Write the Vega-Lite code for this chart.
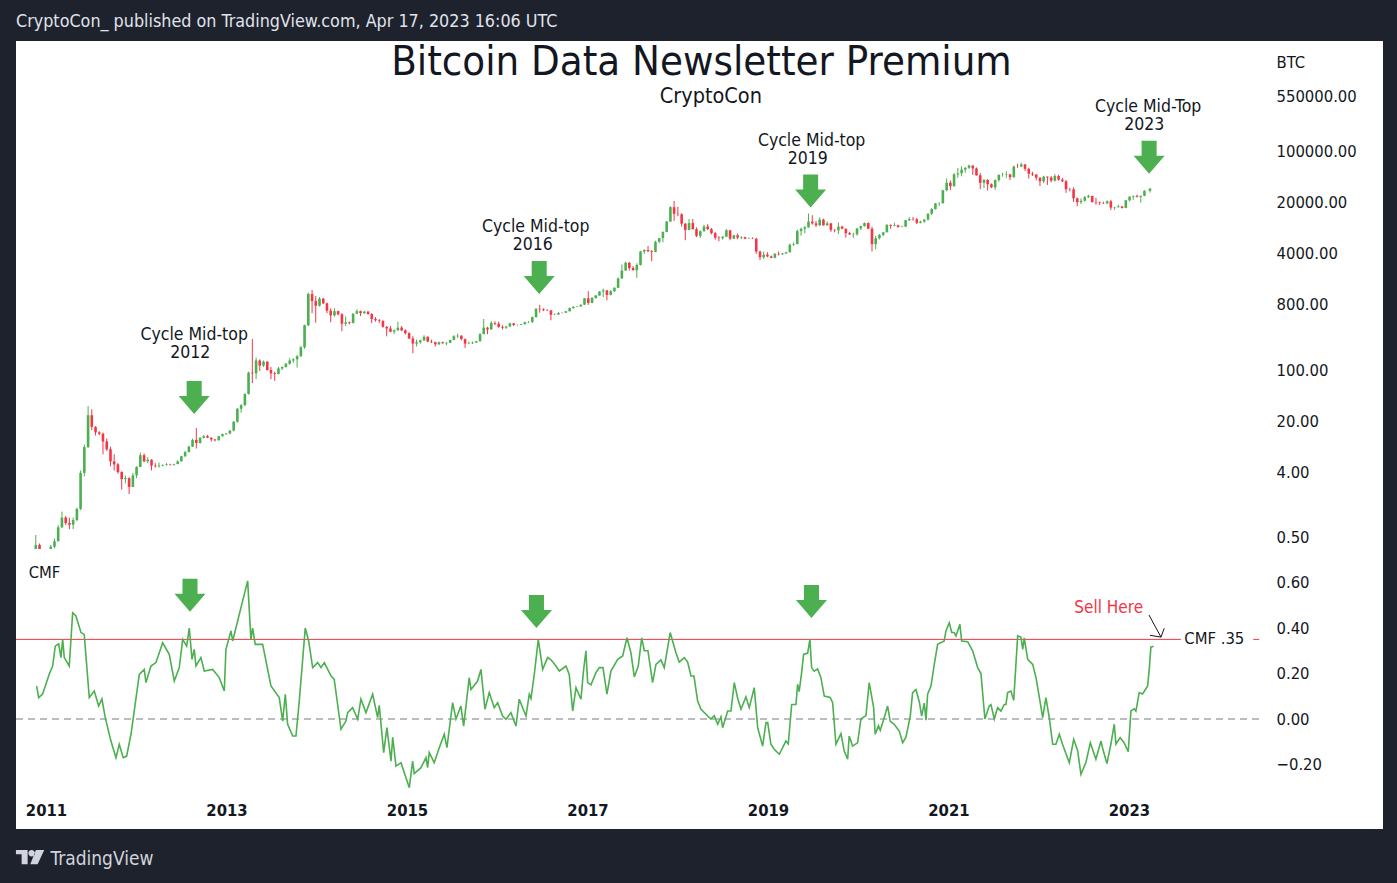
{
  "$schema": "https://vega.github.io/schema/vega-lite/v6.json",
  "background": "#1e222d",
  "padding": {"left": 15, "right": 15, "top": 13, "bottom": 16},
  "title": {
    "text": "CryptoCon_ published on TradingView.com, Apr 17, 2023 16:06 UTC",
    "anchor": "start",
    "frame": "group",
    "offset": 10,
    "color": "#e0e3eb",
    "fontSize": 17.8,
    "fontWeight": "normal",
    "font": "DejaVu Sans Condensed, DejaVu Sans"
  },
  "spacing": 0,
  "datasets": {
    "btc": [
      {"t":2010.833,"o":0.2,"h":0.55,"l":0.19,"c":0.4},
      {"t":2010.875,"o":0.4,"h":0.42,"l":0.19,"c":0.25},
      {"t":2010.917,"o":0.25,"h":0.3,"l":0.18,"c":0.22},
      {"t":2010.958,"o":0.22,"h":0.3,"l":0.2,"c":0.29},
      {"t":2011.000,"o":0.29,"h":0.4,"l":0.28,"c":0.38},
      {"t":2011.042,"o":0.38,"h":0.49,"l":0.36,"c":0.45},
      {"t":2011.083,"o":0.45,"h":0.75,"l":0.45,"c":0.7},
      {"t":2011.125,"o":0.7,"h":1.15,"l":0.68,"c":0.95},
      {"t":2011.167,"o":0.95,"h":1.0,"l":0.75,"c":0.8},
      {"t":2011.208,"o":0.8,"h":0.95,"l":0.66,"c":0.76},
      {"t":2011.250,"o":0.76,"h":0.95,"l":0.66,"c":0.88},
      {"t":2011.292,"o":0.88,"h":1.3,"l":0.85,"c":1.25},
      {"t":2011.333,"o":1.25,"h":4.2,"l":1.2,"c":3.9},
      {"t":2011.375,"o":3.9,"h":9.5,"l":3.5,"c":8.8},
      {"t":2011.417,"o":8.8,"h":32,"l":8.5,"c":24},
      {"t":2011.458,"o":24,"h":29,"l":15,"c":16.6},
      {"t":2011.500,"o":16.6,"h":17,"l":12.7,"c":14},
      {"t":2011.542,"o":14,"h":14.5,"l":12.8,"c":13.4},
      {"t":2011.583,"o":13.4,"h":13.9,"l":7,"c":10.5},
      {"t":2011.625,"o":10.5,"h":11.5,"l":7.8,"c":8.2},
      {"t":2011.667,"o":8.2,"h":8.9,"l":4.8,"c":5.6},
      {"t":2011.708,"o":5.6,"h":7,"l":4.2,"c":5.1},
      {"t":2011.750,"o":5.1,"h":5.3,"l":3.8,"c":4},
      {"t":2011.792,"o":4,"h":4.1,"l":2.3,"c":3.2},
      {"t":2011.833,"o":3.2,"h":3.6,"l":2.8,"c":3.3},
      {"t":2011.875,"o":3.3,"h":3.4,"l":2.0,"c":2.5},
      {"t":2011.917,"o":2.5,"h":3.9,"l":2.5,"c":3.6},
      {"t":2011.958,"o":3.6,"h":4.8,"l":3.3,"c":4.7},
      {"t":2012.000,"o":4.7,"h":7.4,"l":4.7,"c":6.8},
      {"t":2012.042,"o":6.8,"h":7.2,"l":5.5,"c":5.6},
      {"t":2012.083,"o":5.6,"h":6.4,"l":5.3,"c":5.9},
      {"t":2012.125,"o":5.9,"h":6,"l":4.2,"c":4.9},
      {"t":2012.167,"o":4.9,"h":5.3,"l":4.6,"c":4.8},
      {"t":2012.208,"o":4.8,"h":5.4,"l":4.6,"c":4.9},
      {"t":2012.250,"o":4.9,"h":5.1,"l":4.8,"c":5},
      {"t":2012.292,"o":5,"h":5.3,"l":4.9,"c":5.1},
      {"t":2012.333,"o":5.1,"h":5.2,"l":4.9,"c":5.05},
      {"t":2012.375,"o":5.05,"h":5.2,"l":4.9,"c":5.15},
      {"t":2012.417,"o":5.15,"h":5.8,"l":5.1,"c":5.6},
      {"t":2012.458,"o":5.6,"h":6.7,"l":5.6,"c":6.6},
      {"t":2012.500,"o":6.6,"h":7.8,"l":6.4,"c":7.5},
      {"t":2012.542,"o":7.5,"h":9.2,"l":7.5,"c":8.9},
      {"t":2012.583,"o":8.9,"h":11.5,"l":8.8,"c":11},
      {"t":2012.625,"o":11,"h":16,"l":8.4,"c":10},
      {"t":2012.667,"o":10,"h":12,"l":9.8,"c":11.8},
      {"t":2012.708,"o":11.8,"h":12.9,"l":11.5,"c":12.4},
      {"t":2012.750,"o":12.4,"h":12.9,"l":11.7,"c":11.8},
      {"t":2012.792,"o":11.8,"h":12,"l":10.5,"c":11.2},
      {"t":2012.833,"o":11.2,"h":11.3,"l":10.5,"c":10.9},
      {"t":2012.875,"o":10.9,"h":12.5,"l":10.8,"c":12.4},
      {"t":2012.917,"o":12.4,"h":13.5,"l":12.2,"c":13.2},
      {"t":2012.958,"o":13.2,"h":13.6,"l":12.9,"c":13.5},
      {"t":2013.000,"o":13.5,"h":15,"l":13.2,"c":14.8},
      {"t":2013.042,"o":14.8,"h":20,"l":14.5,"c":19.5},
      {"t":2013.083,"o":19.5,"h":30,"l":19,"c":29.5},
      {"t":2013.125,"o":29.5,"h":34,"l":26,"c":33},
      {"t":2013.167,"o":33,"h":48,"l":32,"c":47},
      {"t":2013.208,"o":47,"h":95,"l":46,"c":92},
      {"t":2013.250,"o":92,"h":266,"l":66,"c":90},
      {"t":2013.292,"o":90,"h":148,"l":75,"c":135},
      {"t":2013.333,"o":135,"h":140,"l":97,"c":115},
      {"t":2013.375,"o":115,"h":135,"l":110,"c":130},
      {"t":2013.417,"o":130,"h":132,"l":98,"c":100},
      {"t":2013.458,"o":100,"h":110,"l":75,"c":90},
      {"t":2013.500,"o":90,"h":95,"l":71,"c":88},
      {"t":2013.542,"o":88,"h":110,"l":87,"c":105},
      {"t":2013.583,"o":105,"h":112,"l":100,"c":110},
      {"t":2013.625,"o":110,"h":125,"l":108,"c":122},
      {"t":2013.667,"o":122,"h":145,"l":118,"c":135},
      {"t":2013.708,"o":135,"h":145,"l":125,"c":140},
      {"t":2013.750,"o":140,"h":160,"l":108,"c":155},
      {"t":2013.792,"o":155,"h":215,"l":150,"c":205},
      {"t":2013.833,"o":205,"h":420,"l":195,"c":410},
      {"t":2013.875,"o":410,"h":1150,"l":400,"c":1100},
      {"t":2013.917,"o":1100,"h":1250,"l":600,"c":880},
      {"t":2013.958,"o":880,"h":1030,"l":445,"c":760},
      {"t":2014.000,"o":760,"h":1000,"l":740,"c":950},
      {"t":2014.042,"o":950,"h":970,"l":800,"c":820},
      {"t":2014.083,"o":820,"h":840,"l":600,"c":650},
      {"t":2014.125,"o":650,"h":700,"l":450,"c":560},
      {"t":2014.167,"o":560,"h":700,"l":540,"c":640},
      {"t":2014.208,"o":640,"h":650,"l":560,"c":580},
      {"t":2014.250,"o":580,"h":600,"l":340,"c":430},
      {"t":2014.292,"o":430,"h":540,"l":400,"c":450},
      {"t":2014.333,"o":450,"h":460,"l":420,"c":440},
      {"t":2014.375,"o":440,"h":600,"l":435,"c":590},
      {"t":2014.417,"o":590,"h":680,"l":585,"c":640},
      {"t":2014.458,"o":640,"h":650,"l":550,"c":600},
      {"t":2014.500,"o":600,"h":650,"l":590,"c":630},
      {"t":2014.542,"o":630,"h":640,"l":570,"c":585},
      {"t":2014.583,"o":585,"h":600,"l":440,"c":500},
      {"t":2014.625,"o":500,"h":530,"l":460,"c":480},
      {"t":2014.667,"o":480,"h":500,"l":440,"c":470},
      {"t":2014.708,"o":470,"h":480,"l":380,"c":390},
      {"t":2014.750,"o":390,"h":400,"l":290,"c":370},
      {"t":2014.792,"o":370,"h":400,"l":330,"c":335},
      {"t":2014.833,"o":335,"h":360,"l":310,"c":350},
      {"t":2014.875,"o":350,"h":460,"l":345,"c":380},
      {"t":2014.917,"o":380,"h":400,"l":340,"c":350},
      {"t":2014.958,"o":350,"h":360,"l":305,"c":320},
      {"t":2015.000,"o":320,"h":330,"l":265,"c":270},
      {"t":2015.042,"o":270,"h":290,"l":170,"c":230},
      {"t":2015.083,"o":230,"h":260,"l":210,"c":240},
      {"t":2015.125,"o":240,"h":260,"l":230,"c":255},
      {"t":2015.167,"o":255,"h":300,"l":250,"c":285},
      {"t":2015.208,"o":285,"h":290,"l":240,"c":245},
      {"t":2015.250,"o":245,"h":260,"l":235,"c":240},
      {"t":2015.292,"o":240,"h":245,"l":210,"c":225},
      {"t":2015.333,"o":225,"h":245,"l":220,"c":240},
      {"t":2015.375,"o":240,"h":245,"l":230,"c":232},
      {"t":2015.417,"o":232,"h":240,"l":220,"c":236},
      {"t":2015.458,"o":236,"h":260,"l":233,"c":258},
      {"t":2015.500,"o":258,"h":300,"l":255,"c":290},
      {"t":2015.542,"o":290,"h":315,"l":275,"c":295},
      {"t":2015.583,"o":295,"h":300,"l":255,"c":265},
      {"t":2015.625,"o":265,"h":270,"l":200,"c":230},
      {"t":2015.667,"o":230,"h":245,"l":225,"c":232},
      {"t":2015.708,"o":232,"h":245,"l":228,"c":237},
      {"t":2015.750,"o":237,"h":250,"l":236,"c":248},
      {"t":2015.792,"o":248,"h":320,"l":245,"c":310},
      {"t":2015.833,"o":310,"h":500,"l":310,"c":380},
      {"t":2015.875,"o":380,"h":390,"l":310,"c":360},
      {"t":2015.917,"o":360,"h":470,"l":355,"c":440},
      {"t":2015.958,"o":440,"h":465,"l":410,"c":430},
      {"t":2016.000,"o":430,"h":460,"l":380,"c":390},
      {"t":2016.042,"o":390,"h":410,"l":360,"c":380},
      {"t":2016.083,"o":380,"h":400,"l":365,"c":395},
      {"t":2016.125,"o":395,"h":445,"l":390,"c":435},
      {"t":2016.167,"o":435,"h":440,"l":400,"c":415},
      {"t":2016.208,"o":415,"h":420,"l":405,"c":416},
      {"t":2016.250,"o":416,"h":430,"l":412,"c":425},
      {"t":2016.292,"o":425,"h":460,"l":420,"c":450},
      {"t":2016.333,"o":450,"h":465,"l":440,"c":455},
      {"t":2016.375,"o":455,"h":540,"l":440,"c":530},
      {"t":2016.417,"o":530,"h":700,"l":525,"c":690},
      {"t":2016.458,"o":690,"h":780,"l":610,"c":680},
      {"t":2016.500,"o":680,"h":700,"l":640,"c":660},
      {"t":2016.542,"o":660,"h":680,"l":640,"c":655},
      {"t":2016.583,"o":655,"h":660,"l":480,"c":570},
      {"t":2016.625,"o":570,"h":595,"l":565,"c":575},
      {"t":2016.667,"o":575,"h":620,"l":570,"c":605},
      {"t":2016.708,"o":605,"h":615,"l":595,"c":608},
      {"t":2016.750,"o":608,"h":640,"l":605,"c":638},
      {"t":2016.792,"o":638,"h":720,"l":635,"c":705},
      {"t":2016.833,"o":705,"h":750,"l":690,"c":735},
      {"t":2016.875,"o":735,"h":755,"l":725,"c":742},
      {"t":2016.917,"o":742,"h":790,"l":740,"c":785},
      {"t":2016.958,"o":785,"h":965,"l":780,"c":960},
      {"t":2017.000,"o":960,"h":1200,"l":780,"c":830},
      {"t":2017.042,"o":830,"h":1000,"l":820,"c":970},
      {"t":2017.083,"o":970,"h":1060,"l":950,"c":1050},
      {"t":2017.125,"o":1050,"h":1200,"l":1040,"c":1190},
      {"t":2017.167,"o":1190,"h":1300,"l":1000,"c":1230},
      {"t":2017.208,"o":1230,"h":1250,"l":900,"c":1070},
      {"t":2017.250,"o":1070,"h":1240,"l":1050,"c":1200},
      {"t":2017.292,"o":1200,"h":1350,"l":1170,"c":1340},
      {"t":2017.333,"o":1340,"h":1850,"l":1320,"c":1800},
      {"t":2017.375,"o":1800,"h":2800,"l":1780,"c":2300},
      {"t":2017.417,"o":2300,"h":3050,"l":2300,"c":2950},
      {"t":2017.458,"o":2950,"h":3000,"l":2300,"c":2500},
      {"t":2017.500,"o":2500,"h":2650,"l":2300,"c":2330},
      {"t":2017.542,"o":2330,"h":2900,"l":1830,"c":2750},
      {"t":2017.583,"o":2750,"h":4300,"l":2700,"c":4200},
      {"t":2017.625,"o":4200,"h":4500,"l":3900,"c":4400},
      {"t":2017.667,"o":4400,"h":5000,"l":4100,"c":4250},
      {"t":2017.708,"o":4250,"h":4400,"l":3100,"c":4150},
      {"t":2017.750,"o":4150,"h":5900,"l":4100,"c":5700},
      {"t":2017.792,"o":5700,"h":6400,"l":5500,"c":6400},
      {"t":2017.833,"o":6400,"h":7900,"l":5600,"c":7800},
      {"t":2017.875,"o":7800,"h":11000,"l":7700,"c":10800},
      {"t":2017.917,"o":10800,"h":17500,"l":10700,"c":17000},
      {"t":2017.958,"o":17000,"h":20700,"l":11000,"c":13800},
      {"t":2018.000,"o":13800,"h":17200,"l":12800,"c":13600},
      {"t":2018.042,"o":13600,"h":14000,"l":9200,"c":10100},
      {"t":2018.083,"o":10100,"h":10300,"l":6000,"c":8300},
      {"t":2018.125,"o":8300,"h":11700,"l":8200,"c":10300},
      {"t":2018.167,"o":10300,"h":11700,"l":8400,"c":8500},
      {"t":2018.208,"o":8500,"h":9000,"l":6600,"c":6900},
      {"t":2018.250,"o":6900,"h":8200,"l":6450,"c":7950},
      {"t":2018.292,"o":7950,"h":9800,"l":7900,"c":9250},
      {"t":2018.333,"o":9250,"h":9950,"l":8300,"c":8500},
      {"t":2018.375,"o":8500,"h":8800,"l":7200,"c":7500},
      {"t":2018.417,"o":7500,"h":7750,"l":6100,"c":6500},
      {"t":2018.458,"o":6500,"h":6800,"l":5800,"c":6400},
      {"t":2018.500,"o":6400,"h":6850,"l":6100,"c":6700},
      {"t":2018.542,"o":6700,"h":8500,"l":6600,"c":8200},
      {"t":2018.583,"o":8200,"h":8300,"l":6000,"c":6300},
      {"t":2018.625,"o":6300,"h":7100,"l":6200,"c":7000},
      {"t":2018.667,"o":7000,"h":7400,"l":6200,"c":6500},
      {"t":2018.708,"o":6500,"h":6800,"l":6200,"c":6600},
      {"t":2018.750,"o":6600,"h":6700,"l":6200,"c":6300},
      {"t":2018.792,"o":6300,"h":6500,"l":6250,"c":6350},
      {"t":2018.833,"o":6350,"h":6550,"l":6250,"c":6300},
      {"t":2018.875,"o":6300,"h":6400,"l":3900,"c":4200},
      {"t":2018.917,"o":4200,"h":4300,"l":3200,"c":3500},
      {"t":2018.958,"o":3500,"h":4200,"l":3300,"c":3800},
      {"t":2019.000,"o":3800,"h":4100,"l":3500,"c":3600},
      {"t":2019.042,"o":3600,"h":3700,"l":3400,"c":3450},
      {"t":2019.083,"o":3450,"h":4000,"l":3380,"c":3900},
      {"t":2019.125,"o":3900,"h":4200,"l":3700,"c":3850},
      {"t":2019.167,"o":3850,"h":4000,"l":3750,"c":3950},
      {"t":2019.208,"o":3950,"h":4150,"l":3900,"c":4100},
      {"t":2019.250,"o":4100,"h":5400,"l":4100,"c":5200},
      {"t":2019.292,"o":5200,"h":5600,"l":5000,"c":5300},
      {"t":2019.333,"o":5300,"h":8400,"l":5300,"c":8000},
      {"t":2019.375,"o":8000,"h":8900,"l":6900,"c":8600},
      {"t":2019.417,"o":8600,"h":9400,"l":7500,"c":9000},
      {"t":2019.458,"o":9000,"h":13900,"l":8900,"c":10800},
      {"t":2019.500,"o":10800,"h":13200,"l":9800,"c":10200},
      {"t":2019.542,"o":10200,"h":11000,"l":9100,"c":9600},
      {"t":2019.583,"o":9600,"h":12300,"l":9400,"c":11500},
      {"t":2019.625,"o":11500,"h":11800,"l":9500,"c":9600},
      {"t":2019.667,"o":9600,"h":10900,"l":9500,"c":10200},
      {"t":2019.708,"o":10200,"h":10400,"l":7800,"c":8300},
      {"t":2019.750,"o":8300,"h":8500,"l":7700,"c":8200},
      {"t":2019.792,"o":8200,"h":10500,"l":7300,"c":9200},
      {"t":2019.833,"o":9200,"h":9500,"l":8500,"c":8600},
      {"t":2019.875,"o":8600,"h":8700,"l":6500,"c":7500},
      {"t":2019.917,"o":7500,"h":7800,"l":7100,"c":7200},
      {"t":2019.958,"o":7200,"h":7600,"l":6450,"c":7250},
      {"t":2020.000,"o":7250,"h":8800,"l":6900,"c":8700},
      {"t":2020.042,"o":8700,"h":9500,"l":8300,"c":9350},
      {"t":2020.083,"o":9350,"h":10500,"l":9200,"c":10300},
      {"t":2020.125,"o":10300,"h":10500,"l":8500,"c":8600},
      {"t":2020.167,"o":8600,"h":9200,"l":4200,"c":5300},
      {"t":2020.208,"o":5300,"h":6900,"l":4500,"c":6400},
      {"t":2020.250,"o":6400,"h":7300,"l":6150,"c":7100},
      {"t":2020.292,"o":7100,"h":7800,"l":6800,"c":7700},
      {"t":2020.333,"o":7700,"h":10000,"l":7700,"c":9700},
      {"t":2020.375,"o":9700,"h":9900,"l":8600,"c":9450},
      {"t":2020.417,"o":9450,"h":10400,"l":9250,"c":9600},
      {"t":2020.458,"o":9600,"h":9800,"l":8900,"c":9100},
      {"t":2020.500,"o":9100,"h":9450,"l":9050,"c":9200},
      {"t":2020.542,"o":9200,"h":11400,"l":9100,"c":11300},
      {"t":2020.583,"o":11300,"h":12400,"l":11000,"c":11700},
      {"t":2020.625,"o":11700,"h":12500,"l":11150,"c":11600},
      {"t":2020.667,"o":11600,"h":12100,"l":10000,"c":10400},
      {"t":2020.708,"o":10400,"h":11100,"l":10200,"c":10800},
      {"t":2020.750,"o":10800,"h":11700,"l":10400,"c":11500},
      {"t":2020.792,"o":11500,"h":14000,"l":11200,"c":13800},
      {"t":2020.833,"o":13800,"h":16500,"l":13200,"c":16000},
      {"t":2020.875,"o":16000,"h":19400,"l":15800,"c":19200},
      {"t":2020.917,"o":19200,"h":19900,"l":17600,"c":19300},
      {"t":2020.958,"o":19300,"h":29300,"l":19000,"c":29000},
      {"t":2021.000,"o":29000,"h":42000,"l":28000,"c":36800},
      {"t":2021.042,"o":36800,"h":39500,"l":29000,"c":33000},
      {"t":2021.083,"o":33000,"h":49700,"l":32500,"c":47900},
      {"t":2021.125,"o":47900,"h":58400,"l":43000,"c":49500},
      {"t":2021.167,"o":49500,"h":61800,"l":45000,"c":55600},
      {"t":2021.208,"o":55600,"h":60000,"l":50400,"c":58800},
      {"t":2021.250,"o":58800,"h":64900,"l":57000,"c":63200},
      {"t":2021.292,"o":63200,"h":64000,"l":47000,"c":57700},
      {"t":2021.333,"o":57700,"h":59600,"l":46000,"c":46400},
      {"t":2021.375,"o":46400,"h":50000,"l":30000,"c":36700},
      {"t":2021.417,"o":36700,"h":41300,"l":31000,"c":40100},
      {"t":2021.458,"o":40100,"h":41300,"l":28800,"c":35000},
      {"t":2021.500,"o":35000,"h":36000,"l":31000,"c":31800},
      {"t":2021.542,"o":31800,"h":40900,"l":29300,"c":40000},
      {"t":2021.583,"o":40000,"h":48000,"l":37700,"c":47000},
      {"t":2021.625,"o":47000,"h":50500,"l":44400,"c":47100},
      {"t":2021.667,"o":47100,"h":52900,"l":42800,"c":47700},
      {"t":2021.708,"o":47700,"h":48500,"l":40000,"c":43800},
      {"t":2021.750,"o":43800,"h":62900,"l":43000,"c":61500},
      {"t":2021.792,"o":61500,"h":67000,"l":58900,"c":61300},
      {"t":2021.833,"o":61300,"h":69000,"l":60100,"c":65500},
      {"t":2021.875,"o":65500,"h":66300,"l":53300,"c":57000},
      {"t":2021.917,"o":57000,"h":59000,"l":42000,"c":48900},
      {"t":2021.958,"o":48900,"h":52000,"l":45600,"c":47700},
      {"t":2022.000,"o":47700,"h":47900,"l":39600,"c":43100},
      {"t":2022.042,"o":43100,"h":43500,"l":33000,"c":38500},
      {"t":2022.083,"o":38500,"h":45800,"l":36300,"c":44500},
      {"t":2022.125,"o":44500,"h":44700,"l":34300,"c":43200},
      {"t":2022.167,"o":43200,"h":45400,"l":37200,"c":39300},
      {"t":2022.208,"o":39300,"h":48200,"l":38200,"c":45500},
      {"t":2022.250,"o":45500,"h":47400,"l":39300,"c":40500},
      {"t":2022.292,"o":40500,"h":42900,"l":37600,"c":38500},
      {"t":2022.333,"o":38500,"h":40000,"l":26700,"c":30000},
      {"t":2022.375,"o":30000,"h":31300,"l":28000,"c":29800},
      {"t":2022.417,"o":29800,"h":31800,"l":20000,"c":22500},
      {"t":2022.458,"o":22500,"h":23000,"l":17600,"c":19900},
      {"t":2022.500,"o":19900,"h":22500,"l":18800,"c":20800},
      {"t":2022.542,"o":20800,"h":24200,"l":20300,"c":23300},
      {"t":2022.583,"o":23300,"h":25200,"l":22700,"c":24300},
      {"t":2022.625,"o":24300,"h":24400,"l":19600,"c":20000},
      {"t":2022.667,"o":20000,"h":22800,"l":18300,"c":19700},
      {"t":2022.708,"o":19700,"h":20300,"l":18200,"c":19400},
      {"t":2022.750,"o":19400,"h":20200,"l":18900,"c":19200},
      {"t":2022.792,"o":19200,"h":21000,"l":18600,"c":20500},
      {"t":2022.833,"o":20500,"h":21400,"l":15500,"c":16800},
      {"t":2022.875,"o":16800,"h":17200,"l":15600,"c":17000},
      {"t":2022.917,"o":17000,"h":18400,"l":16800,"c":17400},
      {"t":2022.958,"o":17400,"h":17600,"l":16300,"c":16600},
      {"t":2023.000,"o":16600,"h":21400,"l":16500,"c":21100},
      {"t":2023.042,"o":21100,"h":23900,"l":20400,"c":23700},
      {"t":2023.083,"o":23700,"h":24300,"l":21400,"c":24300},
      {"t":2023.125,"o":24300,"h":25200,"l":23100,"c":23600},
      {"t":2023.167,"o":23600,"h":24500,"l":19600,"c":24400},
      {"t":2023.208,"o":24400,"h":29000,"l":24000,"c":28500},
      {"t":2023.270,"o":28500,"h":31000,"l":27000,"c":30500}
    ],
    "cmf": [
      {"t":2010.897,"v":0.145},{"t":2010.919,"v":0.094},{"t":2010.963,"v":0.11},{"t":2011.037,"v":0.198},
      {"t":2011.074,"v":0.233},{"t":2011.103,"v":0.32},{"t":2011.141,"v":0.33},{"t":2011.166,"v":0.27},
      {"t":2011.185,"v":0.35},{"t":2011.203,"v":0.27},{"t":2011.258,"v":0.233},{"t":2011.296,"v":0.467},
      {"t":2011.332,"v":0.453},{"t":2011.388,"v":0.38},{"t":2011.424,"v":0.372},{"t":2011.480,"v":0.094},
      {"t":2011.535,"v":0.123},{"t":2011.584,"v":0.057},{"t":2011.620,"v":0.088},{"t":2011.657,"v":0.006},
      {"t":2011.720,"v":-0.097},{"t":2011.776,"v":-0.17},{"t":2011.812,"v":-0.111},{"t":2011.856,"v":-0.17},
      {"t":2011.894,"v":-0.163},{"t":2011.942,"v":-0.067},{"t":2011.978,"v":0.035},{"t":2012.034,"v":0.196},
      {"t":2012.089,"v":0.218},{"t":2012.108,"v":0.16},{"t":2012.163,"v":0.233},{"t":2012.219,"v":0.248},
      {"t":2012.293,"v":0.335},{"t":2012.366,"v":0.284},{"t":2012.422,"v":0.167},{"t":2012.477,"v":0.226},
      {"t":2012.515,"v":0.35},{"t":2012.559,"v":0.32},{"t":2012.588,"v":0.40},{"t":2012.618,"v":0.262},
      {"t":2012.643,"v":0.306},{"t":2012.662,"v":0.233},{"t":2012.717,"v":0.27},{"t":2012.754,"v":0.211},
      {"t":2012.847,"v":0.218},{"t":2012.920,"v":0.182},{"t":2012.976,"v":0.123},{"t":2012.994,"v":0.306},
      {"t":2013.050,"v":0.387},{"t":2013.069,"v":0.343},{"t":2013.142,"v":0.46},{"t":2013.235,"v":0.607},
      {"t":2013.271,"v":0.35},{"t":2013.290,"v":0.40},{"t":2013.319,"v":0.328},{"t":2013.401,"v":0.328},
      {"t":2013.493,"v":0.145},{"t":2013.585,"v":0.094},{"t":2013.623,"v":-0.009},{"t":2013.652,"v":0.109},
      {"t":2013.678,"v":-0.023},{"t":2013.734,"v":-0.075},{"t":2013.770,"v":-0.075},{"t":2013.807,"v":0.079},
      {"t":2013.873,"v":0.40},{"t":2013.911,"v":0.343},{"t":2013.955,"v":0.226},{"t":2014.011,"v":0.248},
      {"t":2014.047,"v":0.226},{"t":2014.084,"v":0.248},{"t":2014.158,"v":0.19},{"t":2014.194,"v":0.174},
      {"t":2014.269,"v":-0.045},{"t":2014.324,"v":-0.009},{"t":2014.343,"v":0.028},{"t":2014.398,"v":0.05},
      {"t":2014.454,"v":-0.001},{"t":2014.490,"v":0.087},{"t":2014.546,"v":0.028},{"t":2014.620,"v":0.109},
      {"t":2014.675,"v":0.006},{"t":2014.693,"v":0.06},{"t":2014.742,"v":-0.148},{"t":2014.778,"v":-0.038},
      {"t":2014.823,"v":-0.185},{"t":2014.842,"v":-0.08},{"t":2014.878,"v":-0.207},{"t":2014.934,"v":-0.192},
      {"t":2015.026,"v":-0.302},{"t":2015.063,"v":-0.185},{"t":2015.081,"v":-0.24},{"t":2015.155,"v":-0.214},
      {"t":2015.211,"v":-0.17},{"t":2015.229,"v":-0.214},{"t":2015.247,"v":-0.148},{"t":2015.302,"v":-0.192},
      {"t":2015.358,"v":-0.126},{"t":2015.413,"v":-0.067},{"t":2015.443,"v":-0.126},{"t":2015.506,"v":0.072},
      {"t":2015.543,"v":0},{"t":2015.598,"v":0.057},{"t":2015.628,"v":-0.031},{"t":2015.690,"v":0.182},
      {"t":2015.709,"v":0.13},{"t":2015.783,"v":0.167},{"t":2015.820,"v":0.218},{"t":2015.864,"v":0.043},
      {"t":2015.912,"v":0.116},{"t":2015.967,"v":0.05},{"t":2016.005,"v":0.072},{"t":2016.060,"v":0.013},
      {"t":2016.097,"v":-0.001},{"t":2016.152,"v":0.028},{"t":2016.208,"v":-0.031},{"t":2016.244,"v":0.087},
      {"t":2016.319,"v":0.013},{"t":2016.355,"v":0.109},{"t":2016.374,"v":0.09},{"t":2016.411,"v":0.196},
      {"t":2016.455,"v":0.35},{"t":2016.504,"v":0.218},{"t":2016.559,"v":0.27},{"t":2016.596,"v":0.26},
      {"t":2016.651,"v":0.233},{"t":2016.688,"v":0.211},{"t":2016.762,"v":0.233},{"t":2016.798,"v":0.196},
      {"t":2016.836,"v":0.035},{"t":2016.873,"v":0.138},{"t":2016.928,"v":0.087},{"t":2016.954,"v":0.204},
      {"t":2016.983,"v":0.30},{"t":2017.002,"v":0.16},{"t":2017.039,"v":0.15},{"t":2017.094,"v":0.204},
      {"t":2017.131,"v":0.226},{"t":2017.172,"v":0.226},{"t":2017.216,"v":0.109},{"t":2017.260,"v":0.211},
      {"t":2017.335,"v":0.262},{"t":2017.390,"v":0.277},{"t":2017.438,"v":0.357},{"t":2017.482,"v":0.291},
      {"t":2017.519,"v":0.185},{"t":2017.563,"v":0.233},{"t":2017.601,"v":0.357},{"t":2017.630,"v":0.30},
      {"t":2017.670,"v":0.30},{"t":2017.722,"v":0.16},{"t":2017.759,"v":0.24},{"t":2017.814,"v":0.26},
      {"t":2017.851,"v":0.226},{"t":2017.917,"v":0.38},{"t":2017.980,"v":0.291},{"t":2018.017,"v":0.25},
      {"t":2018.073,"v":0.27},{"t":2018.110,"v":0.25},{"t":2018.147,"v":0.189},{"t":2018.180,"v":0.189},
      {"t":2018.221,"v":0.079},{"t":2018.258,"v":0.043},{"t":2018.313,"v":0.021},{"t":2018.368,"v":0},
      {"t":2018.405,"v":0.015},{"t":2018.443,"v":-0.023},{"t":2018.479,"v":0.01},{"t":2018.498,"v":-0.038},
      {"t":2018.554,"v":0.035},{"t":2018.590,"v":0.035},{"t":2018.627,"v":0.16},{"t":2018.665,"v":0.09},
      {"t":2018.701,"v":0.043},{"t":2018.756,"v":0.097},{"t":2018.793,"v":0.05},{"t":2018.848,"v":0.138},
      {"t":2018.886,"v":-0.038},{"t":2018.941,"v":-0.119},{"t":2018.978,"v":-0.016},{"t":2018.997,"v":-0.016},
      {"t":2019.033,"v":-0.111},{"t":2019.070,"v":-0.133},{"t":2019.125,"v":-0.155},{"t":2019.199,"v":-0.097},
      {"t":2019.225,"v":-0.11},{"t":2019.263,"v":0.064},{"t":2019.310,"v":0.064},{"t":2019.329,"v":0.152},
      {"t":2019.346,"v":0.12},{"t":2019.373,"v":0.204},{"t":2019.395,"v":0.284},{"t":2019.440,"v":0.29},
      {"t":2019.465,"v":0.35},{"t":2019.484,"v":0.226},{"t":2019.513,"v":0.21},{"t":2019.550,"v":0.22},
      {"t":2019.587,"v":0.182},{"t":2019.624,"v":0.101},{"t":2019.690,"v":0.095},{"t":2019.717,"v":0.072},
      {"t":2019.753,"v":-0.111},{"t":2019.809,"v":-0.064},{"t":2019.845,"v":-0.141},{"t":2019.883,"v":-0.177},
      {"t":2019.900,"v":-0.075},{"t":2019.938,"v":-0.119},{"t":2019.993,"v":-0.105},{"t":2020.030,"v":0},
      {"t":2020.086,"v":0.015},{"t":2020.122,"v":0.16},{"t":2020.171,"v":0.05},{"t":2020.188,"v":-0.067},
      {"t":2020.225,"v":-0.03},{"t":2020.244,"v":-0.05},{"t":2020.288,"v":0.006},{"t":2020.326,"v":0.057},
      {"t":2020.355,"v":-0.01},{"t":2020.399,"v":-0.023},{"t":2020.455,"v":-0.053},{"t":2020.493,"v":-0.104},
      {"t":2020.529,"v":-0.08},{"t":2020.577,"v":0.013},{"t":2020.603,"v":0.116},{"t":2020.640,"v":0.13},
      {"t":2020.677,"v":0.075},{"t":2020.703,"v":0.013},{"t":2020.732,"v":0.07},{"t":2020.751,"v":-0.005},
      {"t":2020.769,"v":0.109},{"t":2020.806,"v":0.145},{"t":2020.843,"v":0.24},{"t":2020.880,"v":0.328},
      {"t":2020.953,"v":0.343},{"t":2020.972,"v":0.387},{"t":2021.009,"v":0.423},{"t":2021.036,"v":0.38},
      {"t":2021.064,"v":0.38},{"t":2021.083,"v":0.365},{"t":2021.127,"v":0.416},{"t":2021.146,"v":0.343},
      {"t":2021.213,"v":0.34},{"t":2021.268,"v":0.30},{"t":2021.324,"v":0.226},{"t":2021.360,"v":0.2},
      {"t":2021.404,"v":0},{"t":2021.452,"v":0.057},{"t":2021.471,"v":0.063},{"t":2021.508,"v":0},
      {"t":2021.545,"v":0.05},{"t":2021.582,"v":0.035},{"t":2021.618,"v":0.064},{"t":2021.637,"v":0.064},
      {"t":2021.656,"v":0.116},{"t":2021.693,"v":0.123},{"t":2021.723,"v":0.082},{"t":2021.767,"v":0.365},
      {"t":2021.803,"v":0.36},{"t":2021.823,"v":0.306},{"t":2021.840,"v":0.357},{"t":2021.878,"v":0.262},
      {"t":2021.933,"v":0.24},{"t":2021.970,"v":0.182},{"t":2022.017,"v":0.072},{"t":2022.044,"v":0.006},
      {"t":2022.080,"v":0.094},{"t":2022.117,"v":0.006},{"t":2022.155,"v":-0.111},{"t":2022.191,"v":-0.111},
      {"t":2022.228,"v":-0.067},{"t":2022.266,"v":-0.113},{"t":2022.339,"v":-0.192},{"t":2022.388,"v":-0.089},
      {"t":2022.432,"v":-0.14},{"t":2022.468,"v":-0.243},{"t":2022.524,"v":-0.19},{"t":2022.572,"v":-0.104},
      {"t":2022.634,"v":-0.177},{"t":2022.690,"v":-0.097},{"t":2022.709,"v":-0.13},{"t":2022.756,"v":-0.196},
      {"t":2022.800,"v":-0.11},{"t":2022.837,"v":-0.023},{"t":2022.856,"v":-0.11},{"t":2022.903,"v":-0.082},
      {"t":2022.948,"v":-0.105},{"t":2022.992,"v":-0.144},{"t":2023.022,"v":0.035},{"t":2023.058,"v":0.045},
      {"t":2023.077,"v":0.035},{"t":2023.114,"v":0.116},{"t":2023.151,"v":0.11},{"t":2023.207,"v":0.145},
      {"t":2023.225,"v":0.218},{"t":2023.243,"v":0.316},{"t":2023.273,"v":0.32}
    ],
    "labels": [
      {"t":2012.601,"p":303,"label":"Cycle Mid-top"},
      {"t":2012.557,"p":171,"label":"2012"},
      {"t":2016.413,"p":9150,"label":"Cycle Mid-top"},
      {"t":2016.380,"p":5160,"label":"2016"},
      {"t":2019.493,"p":137800,"label":"Cycle Mid-top"},
      {"t":2019.449,"p":76500,"label":"2019"},
      {"t":2023.249,"p":402000,"label":"Cycle Mid-Top"},
      {"t":2023.207,"p":224000,"label":"2023"}
    ],
    "priceArrows": [
      {"t":2012.601,"p":42},
      {"t":2016.452,"p":1850},
      {"t":2019.482,"p":28330},
      {"t":2023.260,"p":81990}
    ],
    "cmfArrows": [
      {"t":2012.596,"v":0.544},
      {"t":2016.435,"v":0.473},
      {"t":2019.482,"v":0.517}
    ],
    "sellArrow": [
      {"t":2023.222,"t2":2023.355,"v":0.457,"v2":0.36},
      {"t":2023.233,"t2":2023.355,"v":0.368,"v2":0.36},
      {"t":2023.391,"t2":2023.355,"v":0.399,"v2":0.36}
    ]
  },
  "vconcat": [
    {
      "width": 1367,
      "height": 508,
      "layer": [
        {
          "data": {"name": "btc"},
          "mark": {"type": "rule", "strokeWidth": 1, "clip": true},
          "encoding": {
            "x": {"field": "t", "type": "quantitative", "scale": {"domain": [2010.668, 2025.815], "nice": false, "zero": false}, "axis": null},
            "y": {
              "field": "l", "type": "quantitative",
              "scale": {"type": "log", "domain": [0.3532, 3213000], "nice": false},
              "axis": {
                "orient": "right", "offset": -107,
                "values": [0.5, 4, 20, 100, 800, 4000, 20000, 100000, 550000],
                "format": ".2f", "labelAlign": "left", "labelBaseline": "middle",
                "title": "BTC", "titleAngle": 0, "titleAlign": "left", "titleBaseline": "middle",
                "titleX": 0, "titleY": 21, "titleFontWeight": "normal", "titleFontSize": 16.5, "titleColor": "#131722"
              }
            },
            "y2": {"field": "h"},
            "color": {"condition": {"test": "datum.c >= datum.o", "value": "#4caf50"}, "value": "#f23645"}
          }
        },
        {
          "data": {"name": "btc"},
          "mark": {"type": "bar", "width": 2.6, "clip": true},
          "encoding": {
            "x": {"field": "t", "type": "quantitative", "axis": null},
            "y": {"field": "o", "type": "quantitative"},
            "y2": {"field": "c"},
            "color": {"condition": {"test": "datum.c >= datum.o", "value": "#4caf50"}, "value": "#f23645"}
          }
        },
        {
          "data": {"name": "priceArrows"},
          "mark": {"type": "point", "filled": true, "opacity": 1, "color": "#4caf50", "size": 1089,
                   "shape": "M-0.455,-1L0.455,-1L0.455,-0.09L0.94,-0.09L0,1L-0.94,-0.09L-0.455,-0.09Z"},
          "encoding": {
            "x": {"field": "t", "type": "quantitative", "axis": null},
            "y": {"field": "p", "type": "quantitative"}
          }
        },
        {
          "data": {"name": "labels"},
          "mark": {"type": "text", "fontSize": 17.5, "color": "#131722", "align": "center", "baseline": "middle",
                   "font": "DejaVu Sans Condensed, DejaVu Sans"},
          "encoding": {
            "x": {"field": "t", "type": "quantitative", "axis": null},
            "y": {"field": "p", "type": "quantitative"},
            "text": {"field": "label"}
          }
        },
        {
          "data": {"values": [{}]},
          "mark": {"type": "text", "text": "Bitcoin Data Newsletter Premium", "fontSize": 41.5, "color": "#131722",
                   "align": "center", "baseline": "middle", "font": "DejaVu Sans Condensed, DejaVu Sans"},
          "encoding": {
            "x": {"datum": 2018.263, "type": "quantitative", "axis": null},
            "y": {"datum": 1605000, "type": "quantitative"}
          }
        },
        {
          "data": {"values": [{}]},
          "mark": {"type": "text", "text": "CryptoCon", "fontSize": 21.5, "color": "#131722",
                   "align": "center", "baseline": "middle", "font": "DejaVu Sans Condensed, DejaVu Sans"},
          "encoding": {
            "x": {"datum": 2018.368, "type": "quantitative", "axis": null},
            "y": {"datum": 558000, "type": "quantitative"}
          }
        }
      ]
    },
    {
      "width": 1367,
      "height": 280,
      "layer": [
        {
          "data": {"values": [{}]},
          "mark": {"type": "rule", "color": "#787b86", "strokeWidth": 1, "strokeDash": [7, 5]},
          "encoding": {
            "x": {"datum": 2010.668, "type": "quantitative"},
            "x2": {"datum": 2024.452},
            "y": {"datum": 0, "type": "quantitative"}
          }
        },
        {
          "data": {"values": [{}]},
          "mark": {"type": "rule", "color": "#f23645", "strokeWidth": 1},
          "encoding": {
            "x": {"datum": 2010.668, "type": "quantitative"},
            "x2": {"datum": 2023.576},
            "y": {"datum": 0.35, "type": "quantitative"}
          }
        },
        {
          "data": {"values": [{}]},
          "mark": {"type": "rule", "color": "#f23645", "strokeWidth": 1},
          "encoding": {
            "x": {"datum": 2024.377, "type": "quantitative"},
            "x2": {"datum": 2024.444},
            "y": {"datum": 0.35, "type": "quantitative"}
          }
        },
        {
          "data": {"name": "cmf"},
          "mark": {"type": "line", "color": "#4caf50", "strokeWidth": 1.6},
          "encoding": {
            "x": {
              "field": "t", "type": "quantitative",
              "scale": {"domain": [2010.668, 2025.815], "nice": false, "zero": false},
              "axis": {
                "orient": "bottom", "offset": -19,
                "values": [2011, 2013, 2015, 2017, 2019, 2021, 2023],
                "format": "d", "labelFontWeight": "bold", "labelBaseline": "middle", "labelAlign": "center",
                "title": "TradingView", "titleX": 34, "titleY": 48, "titleAlign": "left", "titleBaseline": "middle",
                "titleAnchor": "start", "titleFontSize": 19, "titleFontWeight": "normal", "titleColor": "#d1d4dc"
              }
            },
            "y": {
              "field": "v", "type": "quantitative",
              "scale": {"domain": [-0.4835, 0.7473], "nice": false, "zero": false},
              "axis": {
                "orient": "right", "offset": -107,
                "values": [-0.2, 0, 0.2, 0.4, 0.6],
                "format": ".2f", "labelAlign": "left", "labelBaseline": "middle", "title": null
              }
            }
          }
        },
        {
          "data": {"name": "sellArrow"},
          "mark": {"type": "rule", "color": "#131722", "strokeWidth": 1},
          "encoding": {
            "x": {"field": "t", "type": "quantitative"},
            "x2": {"field": "t2"},
            "y": {"field": "v", "type": "quantitative"},
            "y2": {"field": "v2"}
          }
        },
        {
          "data": {"name": "cmfArrows"},
          "mark": {"type": "point", "filled": true, "opacity": 1, "color": "#4caf50", "size": 1089,
                   "shape": "M-0.455,-1L0.455,-1L0.455,-0.09L0.94,-0.09L0,1L-0.94,-0.09L-0.455,-0.09Z"},
          "encoding": {
            "x": {"field": "t", "type": "quantitative"},
            "y": {"field": "v", "type": "quantitative"}
          }
        },
        {
          "data": {"values": [{}]},
          "mark": {"type": "point", "filled": true, "opacity": 1, "color": "#d1d4dc", "size": 900, "clip": false,
                   "shape": "M-0.967,-0.48L-0.187,-0.48L-0.187,0.48L-0.587,0.48L-0.587,-0.187L-0.967,-0.187Z M-0.14,-0.253A0.22,0.22 0 1,0 0.3,-0.253A0.22,0.22 0 1,0 -0.14,-0.253Z M0.367,-0.48L0.92,-0.48L0.48,0.48L-0.013,0.48Z"},
          "encoding": {
            "x": {"datum": 2010.828, "type": "quantitative"},
            "y": {"datum": -0.607, "type": "quantitative"}
          }
        },
        {
          "data": {"values": [{}]},
          "mark": {"type": "text", "text": "CMF", "fontSize": 16.5, "color": "#131722", "align": "left", "baseline": "middle",
                   "font": "DejaVu Sans Condensed, DejaVu Sans"},
          "encoding": {
            "x": {"datum": 2010.808, "type": "quantitative"},
            "y": {"datum": 0.642, "type": "quantitative"}
          }
        },
        {
          "data": {"values": [{}]},
          "mark": {"type": "text", "text": "CMF .35", "fontSize": 16.5, "color": "#131722", "align": "left", "baseline": "middle",
                   "font": "DejaVu Sans Condensed, DejaVu Sans"},
          "encoding": {
            "x": {"datum": 2023.613, "type": "quantitative"},
            "y": {"datum": 0.352, "type": "quantitative"}
          }
        },
        {
          "data": {"values": [{}]},
          "mark": {"type": "text", "text": "Sell Here", "fontSize": 17, "color": "#f23645", "align": "center", "baseline": "middle",
                   "font": "DejaVu Sans Condensed, DejaVu Sans"},
          "encoding": {
            "x": {"datum": 2022.776, "type": "quantitative"},
            "y": {"datum": 0.49, "type": "quantitative"}
          }
        }
      ]
    }
  ],
  "config": {
    "font": "DejaVu Sans Condensed, DejaVu Sans",
    "view": {"fill": "#ffffff", "stroke": null},
    "axis": {
      "grid": false, "domain": false, "ticks": false, "tickSize": 0, "labelPadding": 0,
      "labelColor": "#131722", "labelFontSize": 16.5, "labelOverlap": false, "labelBound": false,
      "labelFlush": false, "labelFont": "DejaVu Sans Condensed, DejaVu Sans", "titleFont": "DejaVu Sans Condensed, DejaVu Sans"
    }
  }
}
